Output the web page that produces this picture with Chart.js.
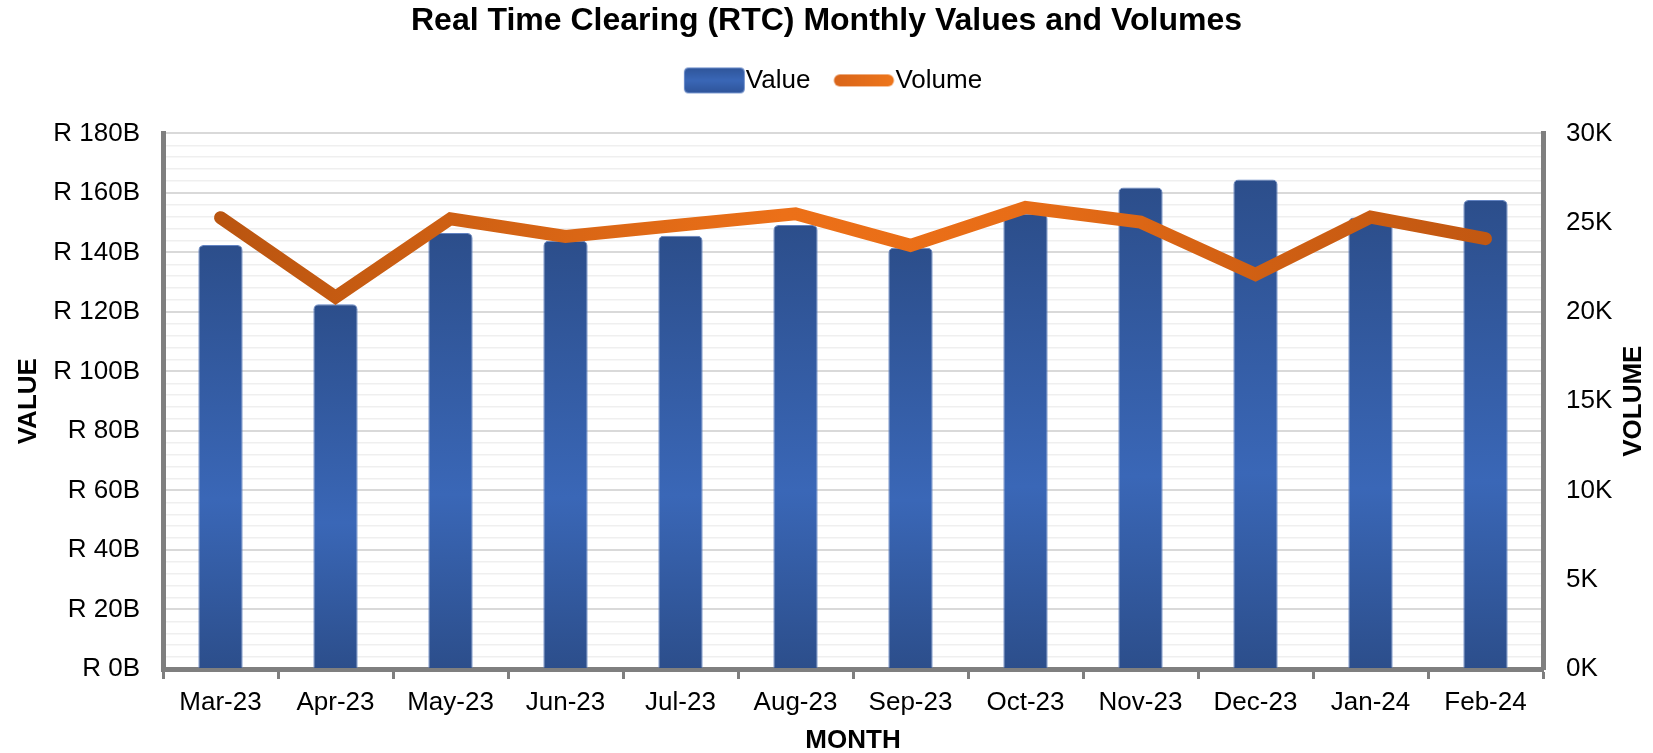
<!DOCTYPE html>
<html>
<head>
<meta charset="utf-8">
<script src="https://cdn.jsdelivr.net/npm/chart.js@4.4.1/dist/chart.umd.min.js"></script>
<style>
html,body{margin:0;padding:0;background:#ffffff;}
#wrap{width:1653px;height:753px;position:relative;}
</style>
</head>
<body>
<div id="wrap"><canvas id="c"></canvas></div>
<script>
// ---- data ----
const months = ['Mar-23','Apr-23','May-23','Jun-23','Jul-23','Aug-23','Sep-23','Oct-23','Nov-23','Dec-23','Jan-24','Feb-24'];
const valueBillions = [142.5, 122.6, 146.5, 143.9, 145.6, 149.2, 141.6, 153.0, 161.8, 164.5, 151.7, 157.6];
const volumeThousands = [25.28, 20.83, 25.22, 24.23, 24.87, 25.5, 23.73, 25.85, 25.03, 22.1, 25.31, 24.1];
const valueTicksMax = 180;
const volumeTicksMax = 30;
const chartTitle = 'Real Time Clearing (RTC) Monthly Values and Volumes';
const xTitle = 'MONTH';
const yTitle = 'VALUE';
const y2Title = 'VOLUME';
const seriesNames = ['Value', 'Volume'];

const FONT = '"Liberation Sans", Arial, Helvetica, sans-serif';
Chart.defaults.font.family = FONT;
Chart.defaults.color = '#000000';

function barGradient(ctx, top, bottom) {
  const g = ctx.createLinearGradient(0, top, 0, bottom);
  g.addColorStop(0, '#2C4E8B');
  g.addColorStop(0.6, '#3A67B7');
  g.addColorStop(1, '#2C4E8B');
  return g;
}
function lineGradient(ctx, left, right) {
  const g = ctx.createLinearGradient(left, 0, right, 0);
  g.addColorStop(0, '#B5520F');
  g.addColorStop(0.45, '#EC7018');
  g.addColorStop(0.62, '#E86D17');
  g.addColorStop(0.8, '#CF5F13');
  g.addColorStop(1, '#BF5611');
  return g;
}

// legend marker images
function makeValueMarker() {
  const c = document.createElement('canvas');
  c.width = 88; c.height = 28;
  const x = c.getContext('2d');
  const l = 26.5, t = 1.5, w = 60, h = 25, r = 4;
  x.beginPath();
  x.moveTo(l + r, t); x.lineTo(l + w - r, t); x.quadraticCurveTo(l + w, t, l + w, t + r);
  x.lineTo(l + w, t + h - r); x.quadraticCurveTo(l + w, t + h, l + w - r, t + h);
  x.lineTo(l + r, t + h); x.quadraticCurveTo(l, t + h, l, t + h - r);
  x.lineTo(l, t + r); x.quadraticCurveTo(l, t, l + r, t);
  x.closePath();
  const g = x.createLinearGradient(0, t, 0, t + h);
  g.addColorStop(0, '#2F559A'); g.addColorStop(0.5, '#3A67B7'); g.addColorStop(1, '#2F559A');
  x.fillStyle = g; x.fill();
  x.strokeStyle = '#6F8FCB'; x.lineWidth = 1; x.stroke();
  return c;
}
function makeVolumeMarker() {
  const c = document.createElement('canvas');
  c.width = 88; c.height = 28;
  const x = c.getContext('2d');
  const g = x.createLinearGradient(26, 0, 86, 0);
  g.addColorStop(0, '#D9651A'); g.addColorStop(1, '#EE761C');
  x.strokeStyle = g; x.lineWidth = 12; x.lineCap = 'round';
  x.beginPath(); x.moveTo(32.5, 14); x.lineTo(80.5, 14); x.stroke();
  return c;
}
const valueMarker = makeValueMarker();
const volumeMarker = makeVolumeMarker();

const spacerPlugin = {
  id: 'legendSpacer',
  beforeLayout(chart) {
    const lg = chart.legend;
    if (lg && !lg._spaced) {
      const orig = lg.fit.bind(lg);
      lg.fit = function () { orig(); this.height += 30; };
      lg._spaced = true;
    }
  }
};
const rightTitlePlugin = {
  id: 'rightTitle',
  afterDraw(chart) {
    const ca = chart.chartArea;
    const ctx = chart.ctx;
    ctx.save();
    ctx.translate(1634, (ca.top + ca.bottom) / 2);
    ctx.rotate(-Math.PI / 2);
    ctx.font = 'bold 26px ' + FONT;
    ctx.fillStyle = '#000000';
    ctx.textAlign = 'center';
    ctx.textBaseline = 'middle';
    ctx.fillText(y2Title, 0, 0);
    ctx.restore();
  }
};

new Chart(document.getElementById('c'), {
  data: {
    labels: months,
    datasets: [
      {
        type: 'bar',
        label: seriesNames[0],
        data: valueBillions,
        yAxisID: 'y',
        order: 1,
        backgroundColor: (c) => {
          const ch = c.chart;
          if (!ch.chartArea || c.type !== 'data') return '#3461A8';
          const ys = ch.scales.y;
          return barGradient(ch.ctx, ys.getPixelForValue(c.raw), ys.getPixelForValue(0));
        },
        borderColor: '#6283C2',
        borderWidth: 1,
        borderRadius: {topLeft: 5, topRight: 5, bottomLeft: 0, bottomRight: 0},
        borderSkipped: 'bottom',
        categoryPercentage: 1.0,
        barPercentage: 0.385
      },
      {
        type: 'line',
        label: seriesNames[1],
        data: volumeThousands,
        yAxisID: 'y1',
        order: 0,
        borderColor: (c) => {
          const ch = c.chart;
          if (!ch.chartArea) return '#E46C17';
          return lineGradient(ch.ctx, ch.chartArea.left, ch.chartArea.right);
        },
        borderWidth: 13,
        borderCapStyle: 'round',
        borderJoinStyle: 'miter',
        pointRadius: 0,
        pointHoverRadius: 0,
        tension: 0,
        fill: false
      }
    ]
  },
  options: {
    responsive: true,
    maintainAspectRatio: false,
    animation: false,
    devicePixelRatio: 1,
    layout: {padding: 0},
    plugins: {
      tooltip: {enabled: false},
      title: {
        display: true,
        text: chartTitle,
        color: '#000000',
        font: {size: 32, weight: 'bold', family: FONT},
        padding: {top: 2, bottom: 17}
      },
      legend: {
        display: true,
        position: 'top',
        labels: {
          usePointStyle: true,
          pointStyleWidth: 62,
          padding: 10,
          color: '#000000',
          font: {size: 26, family: FONT},
          generateLabels: () => [
            {text: seriesNames[0], pointStyle: valueMarker, datasetIndex: 0, fillStyle: '#3A67B7', strokeStyle: '#3A67B7', lineWidth: 0, hidden: false, fontColor: '#000000'},
            {text: seriesNames[1], pointStyle: volumeMarker, datasetIndex: 1, fillStyle: '#E46C17', strokeStyle: '#E46C17', lineWidth: 0, hidden: false, fontColor: '#000000'}
          ]
        }
      }
    },
    scales: {
      x: {
        type: 'category',
        offset: true,
        afterFit: (s) => { s.height = 84; },
        grid: {display: true, drawOnChartArea: false, drawTicks: true, tickLength: 10, tickColor: '#7F7F7F', tickWidth: 3, offset: true},
        border: {display: true, color: '#7F7F7F', width: 5},
        ticks: {color: '#000000', font: {size: 26, family: FONT}, padding: 8, maxRotation: 0, autoSkip: false},
        title: {display: true, text: xTitle, color: '#000000', font: {size: 26, weight: 'bold', family: FONT}, padding: {top: 0, bottom: -3}}
      },
      y: {
        type: 'linear',
        position: 'left',
        min: 0,
        max: valueTicksMax,
        afterFit: (s) => { s.width = 163; },
        grid: {
          drawTicks: false,
          color: (c) => (c.tick && c.tick.value % 20 === 0) ? '#D9D9D9' : '#EFEFEF',
          lineWidth: (c) => (c.tick && c.tick.value % 20 === 0) ? 2 : 1.5
        },
        border: {display: true, color: '#7F7F7F', width: 5},
        ticks: {
          stepSize: 4,
          autoSkip: false,
          padding: 23,
          color: '#000000',
          font: {size: 26, family: FONT},
          callback: (v) => (v % 20 === 0) ? 'R ' + v + 'B' : ''
        },
        title: {display: true, text: yTitle, color: '#000000', font: {size: 26, weight: 'bold', family: FONT}, padding: {top: 13, bottom: 0}}
      },
      y1: {
        type: 'linear',
        position: 'right',
        min: 0,
        max: volumeTicksMax,
        afterFit: (s) => { s.width = 110; },
        grid: {drawOnChartArea: false, drawTicks: false},
        border: {display: true, color: '#7F7F7F', width: 5},
        ticks: {
          stepSize: 5,
          padding: 23,
          color: '#000000',
          font: {size: 26, family: FONT},
          callback: (v) => v + 'K'
        },
        title: {display: false, text: y2Title}
      }
    }
  },
  plugins: [spacerPlugin, rightTitlePlugin]
});
</script>
</body>
</html>
